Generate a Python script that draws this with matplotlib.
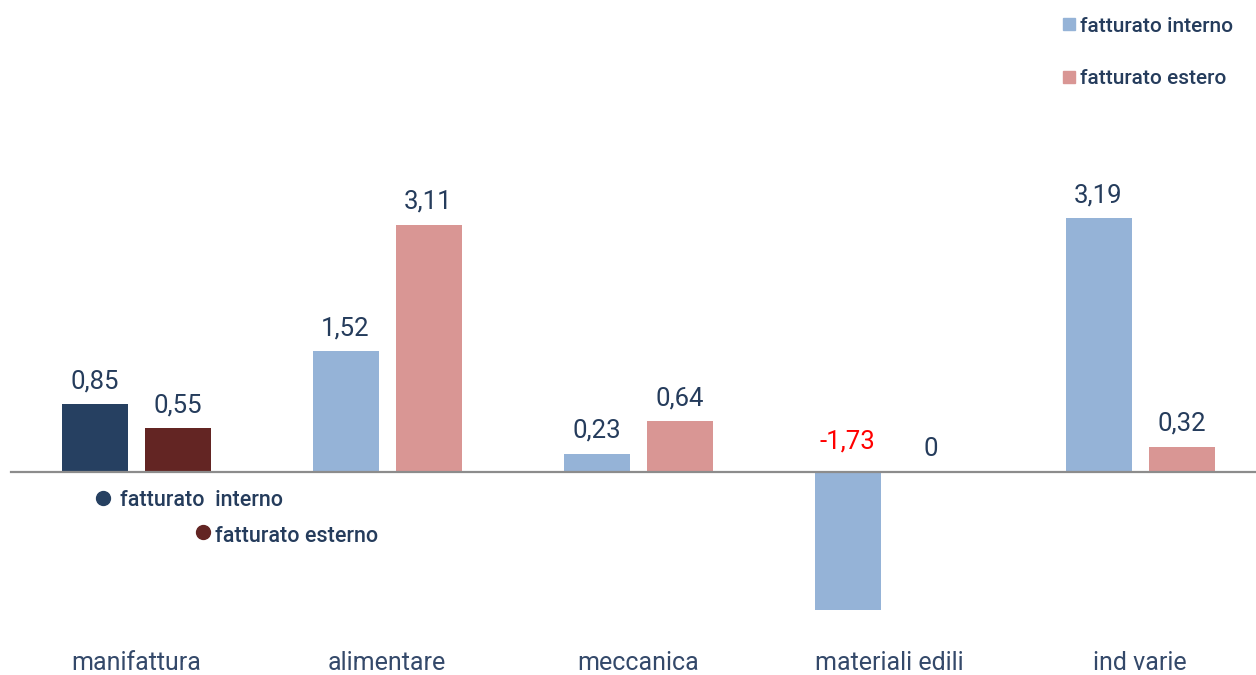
import matplotlib
matplotlib.use("Agg")
import matplotlib.pyplot as plt
from matplotlib.lines import Line2D

categories = ["manifattura", "alimentare", "meccanica", "materiali edili", "ind varie"]
interno = [0.85, 1.52, 0.23, -1.73, 3.19]
esterno = [0.55, 3.11, 0.64, 0.0, 0.32]
labels_interno = ["0,85", "1,52", "0,23", "-1,73", "3,19"]
labels_esterno = ["0,55", "3,11", "0,64", "0", "0,32"]

NAVY = "#264061"
DRED = "#632523"
LBLUE = "#95B3D7"
PINK = "#D99694"
TXT = "#253c5c"
CATTXT = "#34496a"

plt.rcParams['font.family'] = ['Roboto', 'DejaVu Sans']

W, H = 1256, 675
fig = plt.figure(figsize=(W / 100, H / 100), dpi=100)
ax = fig.add_axes([0, 0, 1, 1])
ax.set_axis_off()

step = 251.0
x0px = 136.0
zero_px = 472.0
ppu = 79.5
ax.set_xlim(-x0px / step, (W - x0px) / step)
ax.set_ylim(-(H - zero_px) / ppu, zero_px / ppu)

off = 41.5 / step
bw = 66 / step
xs = list(range(len(categories)))

col_i = [NAVY] + [LBLUE] * (len(categories) - 1)
col_e = [DRED] + [PINK] * (len(categories) - 1)

ax.bar([x - off for x in xs], interno, width=bw, color=col_i, zorder=2)
ax.bar([x + off for x in xs], esterno, width=bw, color=col_e, zorder=2)

ax.axhline(0, xmin=11 / W, xmax=1.0, color="#8c8c8c", lw=1.6, zorder=3)

def put_label(x, v, s):
    if v < 0:
        y, dy, c = 0, 24, "#ff0000"
    else:
        y, dy, c = v, 16, TXT
    ax.annotate(s, (x, y), xytext=(0, dy), textcoords="offset pixels",
                ha="center", va="baseline", fontsize=18.5, color=c)

for x, v, s in zip(xs, interno, labels_interno):
    put_label(x - off, v, s)
for x, v, s in zip(xs, esterno, labels_esterno):
    put_label(x + off, v, s)

for x, c in zip(xs, categories):
    ax.text(x, -(663 - zero_px) / ppu, c, ha="center", va="center",
            fontsize=18, color=CATTXT)

# top-right legend
leg = ax.legend(handles=[Line2D([], [], marker="s", ls="", color=LBLUE, markersize=8),
                         Line2D([], [], marker="s", ls="", color=PINK, markersize=8)],
                labels=["fatturato interno", "fatturato estero"],
                loc="upper left", bbox_to_anchor=(1044 / W, 1 + 2 / H),
                frameon=False, handlelength=0.6, handletextpad=0.25,
                labelspacing=1.6, prop={"size": 15, "weight": "medium"})
for t in leg.get_texts():
    t.set_color(TXT)

# inner legend with dots
fig.add_artist(Line2D([103 / W], [1 - 498 / H], marker="o", color=NAVY, markersize=10, ls=""))
fig.text(120 / W, 1 - 500 / H, "fatturato  interno", ha="left", va="center",
         fontsize=15.5, color=TXT, fontweight="medium")
fig.add_artist(Line2D([203 / W], [1 - 532 / H], marker="o", color=DRED, markersize=10, ls=""))
fig.text(215 / W, 1 - 536 / H, "fatturato esterno", ha="left", va="center",
         fontsize=15.5, color=TXT, fontweight="medium")

fig.savefig("out.png", dpi=100)
